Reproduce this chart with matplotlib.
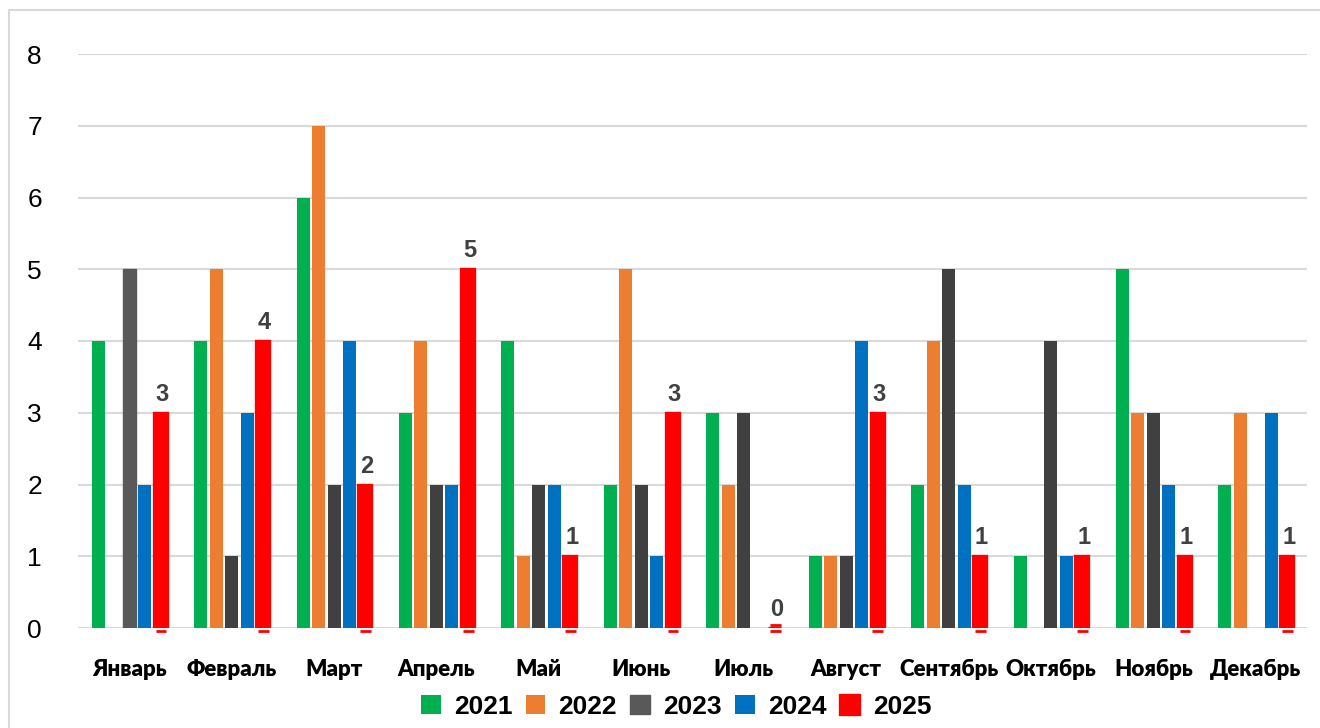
import numpy as np
import matplotlib.pyplot as plt
from matplotlib.patches import Rectangle

months = ["Январь", "Февраль", "Март", "Апрель", "Май", "Июнь",
          "Июль", "Август", "Сентябрь", "Октябрь", "Ноябрь", "Декабрь"]
years = ["2021", "2022", "2023", "2024", "2025"]

v2021 = [4, 4, 6, 3, 4, 2, 3, 1, 2, 1, 5, 2]
v2022 = [0, 5, 7, 4, 1, 5, 2, 1, 4, 0, 3, 3]
v2023 = [5, 1, 2, 2, 2, 2, 3, 1, 5, 4, 3, 0]
v2024 = [2, 3, 4, 2, 2, 1, 0, 4, 2, 1, 2, 3]
v2025 = [3, 4, 2, 5, 1, 3, 0, 3, 1, 1, 1, 1]

colors = ["#00B050", "#ED7D31", "#404040", "#0070C0", "#FF0000"]

fig = plt.figure(figsize=(13.2, 7.28), dpi=100)
ax = fig.add_axes([78 / 1320, 100 / 728, 1229 / 1320, 574 / 728])

# light frame round the whole chart
fig.patches.append(Rectangle((9 / 1320, -0.01), 1.02, 718 / 728 + 0.01,
                             transform=fig.transFigure, fill=False,
                             edgecolor="#D9D9D9", linewidth=1.5))

x = np.arange(len(months))
slot = 0.151
width = 0.127
series = [v2021, v2022, v2023, v2024, v2025]

for i, (vals, col, yr) in enumerate(zip(series, colors, years)):
    pos = x + (i - 2) * slot
    if yr == "2025":
        bars = ax.bar(pos, vals, width, color=col, edgecolor=col,
                      linewidth=2.4, label=yr, zorder=3)
        # small marks under the axis and value labels
        ax.hlines([-0.045] * len(pos), pos - 0.045, pos + 0.06,
                  color=col, linewidth=2, clip_on=False, zorder=3)
        for p, v in zip(pos, vals):
            ax.annotate(str(v), (p + 0.02, v), xytext=(0, 5),
                        textcoords="offset points", ha="center", va="bottom",
                        fontsize=17, fontweight="bold", color="#404040",
                        family=["Liberation Sans", "DejaVu Sans"])
        ax.hlines([0.045], pos[6] - 0.045, pos[6] + 0.06, color=col,
                  linewidth=2, zorder=3)
    else:
        bars = ax.bar(pos, vals, width, color=col, label=yr, zorder=3)
        if yr == "2023":
            bars[0].set_color("#595959")

ax.set_xlim(-0.5, 11.5)
ax.set_ylim(0, 8)
ax.set_yticks(range(0, 9))
ax.yaxis.grid(True, color="#D9D9D9", linewidth=1.5, zorder=0)
ax.set_axisbelow(True)
for s in ax.spines.values():
    s.set_visible(False)
ax.tick_params(axis="both", length=0)
ax.tick_params(axis="y", pad=26)
ax.tick_params(axis="x", pad=22)
for t in ax.get_yticklabels():
    t.set_fontsize(19)
    t.set_family(["Liberation Sans", "DejaVu Sans"])

ax.set_xticks(x)
ax.set_xticklabels(months, fontsize=16, fontweight="heavy",
                   family=["Lato", "DejaVu Sans"])

leg = fig.legend(loc="center", bbox_to_anchor=(676 / 1320, 1 - 707 / 728),
                 ncol=5, frameon=False, handlelength=0.75, handleheight=0.75,
                 handletextpad=0.5, columnspacing=0.5,
                 prop={"family": ["Liberation Sans", "DejaVu Sans"],
                       "weight": "bold", "size": 19})

fig.savefig("out.png", dpi=100)
